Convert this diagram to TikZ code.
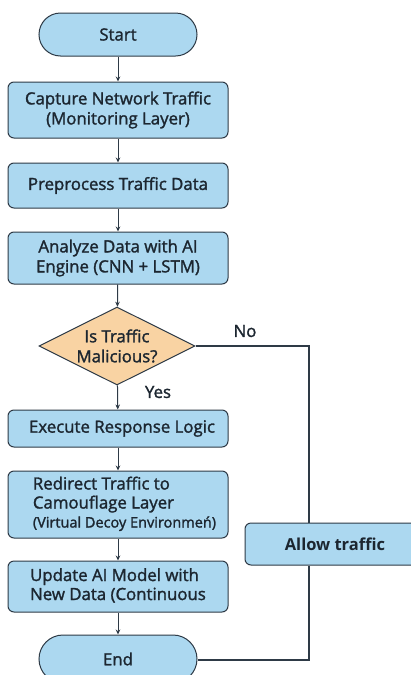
\documentclass[tikz,border=0pt]{standalone}
\usepackage{fontspec}
\setmainfont{Open Sans}[BoldFont={Open Sans}, BoldFeatures={FakeBold=1.6}]
\newfontfamily\strongfont{Open Sans}
\usetikzlibrary{shapes.geometric,arrows.meta}
\definecolor{boxfill}{HTML}{ACD8F0}
\definecolor{decfill}{HTML}{F9D3A3}
\definecolor{edge}{HTML}{2E3A46}
\definecolor{ink}{HTML}{1C2630}
\tikzset{
  x=1pt, y=-1pt,
  every node/.style={text=ink, font=\fontsize{16.8}{20}\selectfont\bfseries},
  procbox/.style={draw=edge, fill=boxfill, line width=1pt, rounded corners=6pt,
    minimum width=220pt, inner sep=0pt, align=center},
  terminal/.style={draw=edge, fill=boxfill, line width=1pt, minimum width=158pt,
    inner sep=0pt},
  decision/.style={draw=edge, fill=decfill, line width=1pt, diamond, aspect=2,
    minimum width=156pt, minimum height=78pt, inner sep=0pt, align=center},
  flow/.style={draw=edge, line width=1pt, -{Stealth[length=5pt,width=4.5pt]}},
  plain/.style={draw=edge, line width=1.1pt},
}
\begin{document}
\begin{tikzpicture}
\useasboundingbox (0,0) rectangle (410,675);
\fill[white] (0,0) rectangle (410,675);

\node[terminal, minimum height=43pt, rounded corners=21.5pt] (start) at (118,34.5) {Start};
\node[procbox, minimum height=56pt] (capture) at (118,110) {Capture Network Traffic\\(Monitoring Layer)};
\node[procbox, minimum height=45pt] (prep) at (118,185.5) {Preprocess Traffic Data};
\node[procbox, minimum height=52pt] (analyze) at (118,258) {Analyze Data with AI\\Engine (CNN + LSTM)};
\node[decision] (dec) at (117,346) {Is Traffic\\Malicious?};
\node[procbox, minimum height=37pt] (exec) at (118,428.5) {\hspace*{8pt}Execute Response Logic};
\node[procbox, minimum height=67pt] (redirect) at (118,504.5)
  {\begin{tabular}{@{\hspace{13pt}}l@{}}Redirect Traffic to\\[-1pt]Camouflage Layer\\[-1pt]
   {\fontsize{14.5}{17}\selectfont(Virtual Decoy Environmeń)}\end{tabular}};
\node[procbox, minimum height=51pt] (update) at (118,586.5)
  {\begin{tabular}{@{}l@{}}Update AI Model with\\[-1pt]New Data (Continuous\end{tabular}};
\node[terminal, minimum height=48pt, rounded corners=24pt] (endn) at (118,659) {End};
\node[procbox, minimum width=180pt, minimum height=42pt,
  font=\fontsize{16.5}{19}\selectfont\strongfont\bfseries] (allow) at (335,544) {Allow traffic};

\draw[flow] (start) -- (capture);
\draw[flow] (capture) -- (prep);
\draw[flow] (prep) -- (analyze);
\draw[flow] (analyze) -- (dec);
\draw[flow] (dec) -- (exec);
\draw[flow] (exec) -- (redirect);
\draw[flow] (redirect) -- (update);
\draw[flow] (update) -- (endn);

\coordinate (turn) at (309,346);
\coordinate (corner) at (309,660);
\draw[plain] (dec.east) -- (turn) -- (allow.north -| turn);
\draw[plain] (allow.south -| turn) -- (corner) -- (endn.east |- corner);

\node (yes) at (158,392) {Yes};
\node (no) at (245,331) {No};
\end{tikzpicture}
\end{document}
